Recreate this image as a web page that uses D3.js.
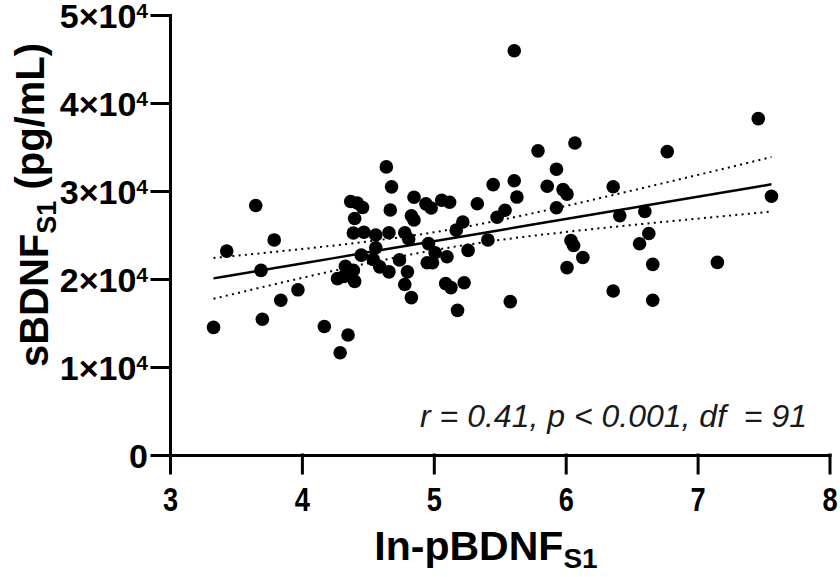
<!DOCTYPE html>
<html lang="en"><head><meta charset="utf-8">
<script src="https://cdn.jsdelivr.net/npm/d3@7"></script>
<style>
  body { margin: 0; background: #fff; }
  text { font-family: "Liberation Sans", Arial, sans-serif; }
</style>
</head>
<body>
<script>
// values
var lnP = [3.33, 3.43, 3.65, 3.69, 3.70, 3.79, 3.84, 3.97, 4.17, 4.29, 4.35, 4.27, 4.33, 4.39, 4.32, 4.40,
           4.45, 4.39, 4.47, 4.40, 4.37, 4.42, 4.46, 4.56, 4.66, 4.78, 4.81, 4.64, 4.68, 4.67, 4.56, 4.54,
           4.59, 4.66, 4.74, 4.80, 4.78, 4.83, 4.85, 4.83, 4.85, 4.94, 4.98, 5.06, 5.12, 4.96, 5.01, 5.10,
           4.95, 4.99, 5.09, 5.13, 5.18, 5.23, 5.26, 5.17, 5.22, 5.33, 5.41, 5.45, 5.48, 5.54, 5.58, 5.61,
           5.61, 5.63, 5.79, 5.86, 5.93, 5.93, 5.98, 6.01, 6.04, 6.06, 6.13, 6.01, 6.07, 6.36, 6.41, 6.60,
           6.63, 6.56, 6.66, 6.36, 6.66, 6.77, 7.15, 7.46, 7.56];
var sBDNF = [14500, 23170, 28350, 20980, 15420, 24440, 17580, 18770, 14600, 11620, 13640, 20040, 21430, 20980, 20300, 19730,
             22710, 25230, 25320, 26880, 28800, 28630, 28120, 25000, 25250, 25250, 24550, 32740, 30470, 27840, 23550, 22230,
             21380, 20810, 22170, 20810, 19370, 17880, 29290, 27180, 26710, 28540, 28070, 28950, 28720, 24020, 22990, 22530,
             21850, 21850, 19480, 19020, 16440, 19580, 23250, 25550, 26480, 28550, 24440, 30730, 27020, 27820, 17430, 45930,
             31160, 29310, 34560, 30540, 32480, 28100, 30160, 29650, 24380, 23810, 22450, 21290, 35460, 30480, 27190, 27670,
             25170, 24010, 21660, 18630, 17580, 34470, 21890, 38220, 29410];

// regression line with its 95% band
var fitX   = [3.33, 4, 4.5, 5, 5.5, 6, 6.5, 7, 7.56];
var fitY   = [20070, 21760, 23030, 24290, 25550, 26820, 28080, 29340, 30760];
var bandLo = [17750, 20120, 21790, 23270, 24430, 25340, 26130, 26860, 27660];
var bandHi = [22390, 23410, 24260, 25310, 26680, 28300, 30040, 31820, 33860];

var xTicks = [3, 4, 5, 6, 7, 8];
var yTicks = [0, 10000, 20000, 30000, 40000, 50000];
var statText = "r = 0.41, p < 0.001, df\u00a0 = 91";

var width = 840, height = 577;

var svg = d3.select("body").append("svg")
    .attr("width", width)
    .attr("height", height);

var x = d3.scaleLinear().domain([3, 8]).range([170, 829.5]);
var y = d3.scaleLinear().domain([0, 50000]).range([455, 15]);

// axes
var xAxis = svg.append("g")
    .attr("transform", "translate(0," + y(0) + ")")
    .call(d3.axisBottom(x).tickValues(xTicks).tickSize(18).tickSizeOuter(0)
          .tickPadding(14).tickFormat(d3.format("d")));
var yAxis = svg.append("g")
    .attr("transform", "translate(" + x(3) + ",0)")
    .call(d3.axisLeft(y).tickValues(yTicks).tickSize(18).tickSizeOuter(0).tickFormat(""));

svg.selectAll(".domain, .tick line")
    .attr("stroke", "#000")
    .attr("stroke-width", 3)
    .attr("stroke-linecap", "square");

xAxis.selectAll(".tick text")
    .attr("font-size", 34)
    .attr("font-weight", "bold")
    .attr("fill", "#000")
    .attr("transform", "scale(0.8,1)");

yAxis.selectAll(".tick").each(function(d) {
    var t = d3.select(this).append("text")
        .attr("x", -22)
        .attr("dy", "0.38em")
        .attr("text-anchor", "end")
        .attr("font-size", 34)
        .attr("font-weight", "bold")
        .attr("fill", "#000");
    if (d === 0) {
        t.text("0");
    } else {
        t.append("tspan").text((d / 10000) + "×10");
        t.append("tspan").attr("font-size", 21).attr("dy", "-0.5em").text("4");
    }
});

// band and fit
var pts = fitX.map(function(v, i) { return {x: v, fit: fitY[i], lo: bandLo[i], hi: bandHi[i]}; });
var line = function(key) {
    return d3.line().curve(d3.curveMonotoneX)
        .x(function(d) { return x(d.x); })
        .y(function(d) { return y(d[key]); });
};
["lo", "hi"].forEach(function(k) {
    svg.append("path")
        .datum(pts)
        .attr("d", line(k))
        .attr("fill", "none")
        .attr("stroke", "#000")
        .attr("stroke-width", 2)
        .attr("stroke-dasharray", "2,4.3");
});
svg.append("path")
    .datum(pts)
    .attr("d", line("fit"))
    .attr("fill", "none")
    .attr("stroke", "#000")
    .attr("stroke-width", 2.5);

// points
svg.append("g").selectAll("circle")
    .data(lnP)
    .enter()
    .append("circle")
    .attr("cx", function(d) { return x(d); })
    .attr("cy", function(d, i) { return y(sBDNF[i]); })
    .attr("r", 6.8)
    .attr("fill", "#000");

// labels
svg.append("text")
    .attr("x", 807)
    .attr("y", 427)
    .attr("text-anchor", "end")
    .attr("font-size", 32)
    .attr("font-style", "italic")
    .attr("fill", "#1a1a1a")
    .text(statText);

var xt = svg.append("text")
    .attr("x", 486)
    .attr("y", 560)
    .attr("text-anchor", "middle")
    .attr("font-size", 41)
    .attr("font-weight", "bold")
    .attr("fill", "#000");
xt.append("tspan").text("In-pBDNF");
xt.append("tspan").attr("font-size", 28).attr("dy", "0.3em").text("S1");

var yt = svg.append("text")
    .attr("transform", "translate(48,205) rotate(-90)")
    .attr("text-anchor", "middle")
    .attr("font-size", 40)
    .attr("font-weight", "bold")
    .attr("fill", "#000");
yt.append("tspan").text("sBDNF");
yt.append("tspan").attr("font-size", 27).attr("dy", "0.3em").text("S1");
yt.append("tspan").attr("dy", "-0.3em").text(" (pg/mL)");
</script>
</body></html>
